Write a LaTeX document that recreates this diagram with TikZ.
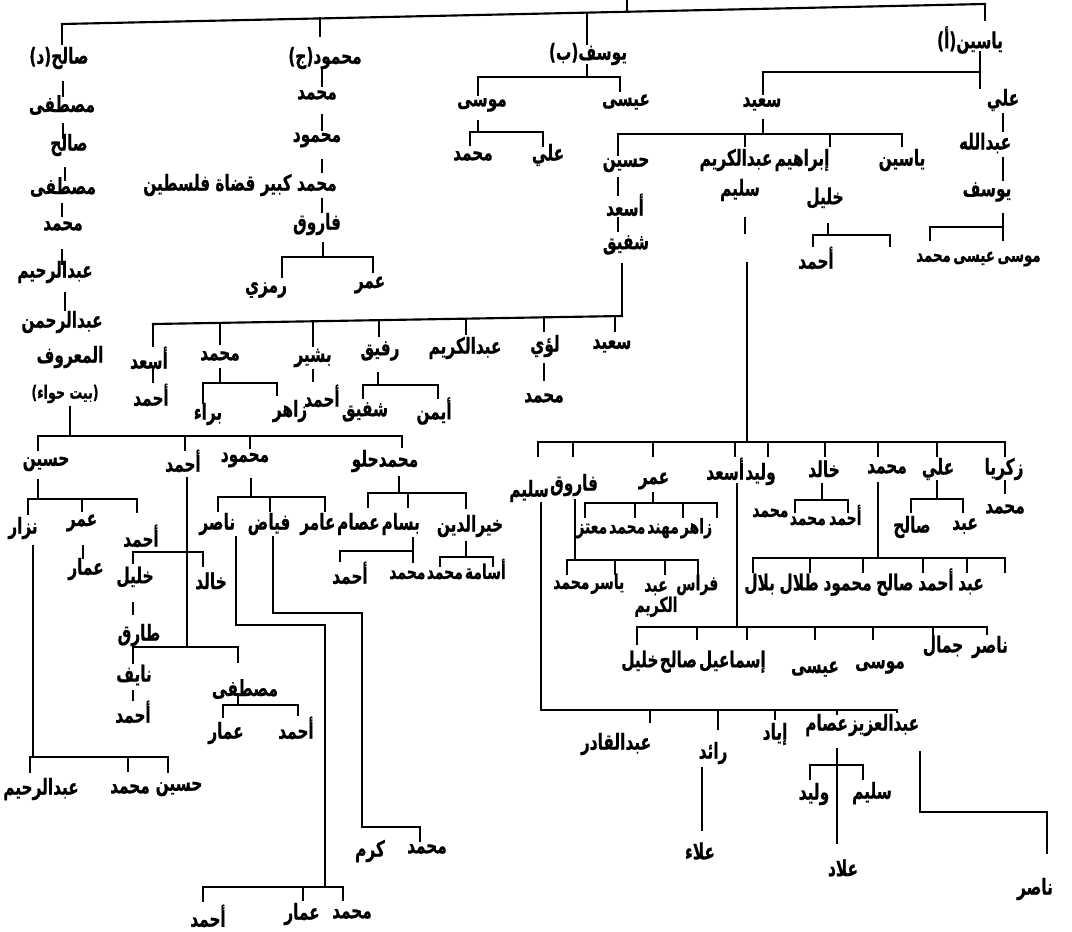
\documentclass[tikz,border=0pt]{standalone}
\usepackage{graphicx}
\usepackage{fontspec}
\newfontfamily\arabicfont[Script=Arabic,BoldFeatures={FakeBold=0.7}]{DejaVu Sans}
\TeXXeTstate=1
\newcommand\A[1]{\scalebox{1}[1.45]{\beginR #1\endR}}
\begin{document}
\begin{tikzpicture}[x=0.75pt,y=-0.75pt,
  nm/.style={font=\arabicfont\bfseries\fontsize{11.5}{13}\selectfont, inner sep=0pt},
  tn/.style={font=\arabicfont\bfseries\fontsize{10.5}{12}\selectfont, inner sep=0pt},
  tt/.style={font=\arabicfont\bfseries\fontsize{10}{12}\selectfont, inner sep=0pt},
  sm/.style={font=\arabicfont\bfseries\fontsize{9.5}{11}\selectfont, inner sep=0pt},
  nx/.style={anchor=base west},
  ln/.style={line width=1.6pt, line cap=rect}]
\useasboundingbox (0,0) rectangle (1072,932);
% ---------- top level
\draw[ln] (62,24) -- (985,4);
\draw[ln] (627,0) -- (627,12);
\node[nm] (a0) at (970,40) {\A{ياسين(أ)}};
\node[nm] (b0) at (588,54) {\A{يوسف(ب)}};
\node[nm] (c0) at (325,58) {\A{محمود(ج)}};
\node[nm] (d0) at (59,58) {\A{صالح(د)}};
\draw[ln] (62,24) -- (62,44);
\draw[ln] (320,18) -- (320,36);
\draw[ln] (587,13) -- (587,44);
\draw[ln] (985,4) -- (985,20);
% ---------- (d) chain
\node[nm] (d1) at (62,105) {\A{مصطفى}};
\node[nm] (d2) at (69,145) {\A{صالح}};
\node[nm] (d3) at (63,187) {\A{مصطفى}};
\node[nm] (d4) at (63,226) {\A{محمد}};
\node[nm] (d5) at (55,272) {\A{عبدالرحيم}};
\node[nm] (d6) at (62,322) {\A{عبدالرحمن}};
\node[nm] (d7) at (70,357) {\A{المعروف}};
\node[sm] (d8) at (65,394) {\A{(بيت حواء)}};
\draw[ln] (63,82) -- (63,96);
\draw[ln] (63,124) -- (63,138);
\draw[ln] (65,168) -- (65,180);
\draw[ln] (62,204) -- (62,216);
\draw[ln] (62,250) -- (62,264);
\draw[ln] (65,293) -- (65,310);
\draw[ln] (70,407) -- (70,436);
% ---------- (c) chain
\node[nm] (c1) at (317,95) {\A{محمد}};
\node[nm] (c2) at (317,140) {\A{محمود}};
\node[nm,anchor=east] (c3) at (337,185) {\A{محمد كبير قضاة فلسطين}};
\node[nm] (c4) at (317,224) {\A{فاروق}};
\node[nm] (c5) at (266,290) {\A{رمزي}};
\node[nm] (c6) at (370,285) {\A{عمر}};
\draw[ln] (322,70) -- (322,86);
\draw[ln] (322,115) -- (322,130);
\draw[ln] (322,160) -- (322,172);
\draw[ln] (322,199) -- (322,212);
\draw[ln] (323,243) -- (323,257);
\draw[ln] (282,277) -- (282,257) -- (373,257) -- (373,272);
% ---------- (b)
\node[nm] (b1) at (626,102) {\A{عيسى}};
\node[nm] (b2) at (482,105) {\A{موسى}};
\node[nm] (b3) at (473,156) {\A{محمد}};
\node[nm] (b4) at (548,155) {\A{علي}};
\draw[ln] (587,65) -- (587,77);
\draw[ln] (478,95) -- (478,77) -- (620,77) -- (620,91);
\draw[ln] (478,121) -- (478,132);
\draw[ln] (470,145) -- (470,132) -- (543,132) -- (543,146);
% ---------- (a)
\node[nm] (a1) at (762,104) {\A{سعيد}};
\node[nm] (a2) at (1003,100) {\A{علي}};
\node[nm] (a3) at (985,143) {\A{عبدالله}};
\node[nm] (a4) at (987,192) {\A{يوسف}};
\draw[ln] (980,52) -- (980,72);
\draw[ln] (763,94) -- (763,72) -- (980,72) -- (980,88);
\draw[ln] (1003,114) -- (1003,131);
\draw[ln] (1003,158) -- (1003,180);
\draw[ln] (1003,214) -- (1003,240);
\draw[ln] (930,240) -- (930,227) -- (1003,227);
% Sa'id's children
\draw[ln] (763,120) -- (763,134);
\draw[ln] (618,155) -- (618,134) -- (902,134) -- (902,146);
\draw[ln] (830,134) -- (830,146);
\draw[ln] (745,134) -- (745,146);
\node[nm] (a5) at (626,165) {\A{حسين}};
\node[nm] (a6) at (736,160) {\A{عبدالكريم}};
\node[nm] (a7) at (802,160) {\A{إبراهيم}};
\node[nm] (a8) at (902,160) {\A{ياسين}};
\node[nm] (a9) at (740,190) {\A{سليم}};
\node[nm] (a10) at (825,198) {\A{خليل}};
\draw[ln] (745,218) -- (745,233);
\draw[ln] (747,263) -- (747,442);
\draw[ln] (828,224) -- (828,235);
\draw[ln] (813,246) -- (813,235) -- (890,235) -- (890,246);
\node[nm] (a10a) at (816,258) {\A{أحمد}};
\node[tt,anchor=west] (a10b) at (916,258) {\A{محمد}};
\node[tt,nx] (a4b) at ([xshift=1.5pt]a10b.base east) {\A{عيسى}};
\node[tt,nx] (a4a) at ([xshift=1.5pt]a4b.base east) {\A{موسى}};
% Hussein chain
\node[nm] (a11) at (625,205) {\A{أسعد}};
\node[nm] (a12) at (626,245) {\A{شفيق}};
\draw[ln] (618,178) -- (618,195);
\draw[ln] (618,218) -- (618,231);
\draw[ln] (622,264) -- (622,316);
% Shafiq's children
\draw[ln] (153,324) -- (622,316);
\node[nm] (s1) at (149,358) {\A{أسعد}};
\node[nm] (s2) at (220,356) {\A{محمد}};
\node[nm] (s3) at (313,358) {\A{بشير}};
\node[nm] (s4) at (380,351) {\A{رفيق}};
\node[nm] (s5) at (465,348) {\A{عبدالكريم}};
\node[nm] (s6) at (545,346) {\A{لؤي}};
\node[nm] (s7) at (612,346) {\A{سعيد}};
\draw[ln] (153,324) -- (153,346);
\draw[ln] (220,323) -- (220,344);
\draw[ln] (313,321) -- (313,346);
\draw[ln] (379,320) -- (379,336);
\draw[ln] (466,319) -- (466,334);
\draw[ln] (544,317) -- (544,331);
\draw[ln] (615,316) -- (615,331);
\node[nm] (s1a) at (151,395) {\A{أحمد}};
\draw[ln] (153,370) -- (153,382);
\draw[ln] (220,369) -- (220,383);
\draw[ln] (203,403) -- (203,383) -- (277,383) -- (277,395);
\node[nm] (s2a) at (290,411) {\A{زاهر}};
\node[nm] (s2b) at (208,414) {\A{براء}};
\node[nm] (s3a) at (322,396) {\A{أحمد}};
\draw[ln] (313,370) -- (313,381);
\draw[ln] (378,373) -- (378,385);
\draw[ln] (363,398) -- (363,385) -- (438,385) -- (438,398);
\node[nm] (s4a) at (365,412) {\A{شفيق}};
\node[nm] (s4b) at (434,411) {\A{أيمن}};
\node[nm] (s6a) at (544,398) {\A{محمد}};
\draw[ln] (544,364) -- (544,380);
% ---------- al-Ma'ruf's children
\draw[ln] (38,436) -- (402,436);
\draw[ln] (38,436) -- (38,450);
\draw[ln] (185,436) -- (185,450);
\draw[ln] (250,436) -- (250,448);
\draw[ln] (402,436) -- (402,447);
\node[nm] (m1) at (46,464) {\A{حسين}};
\node[nm] (m2) at (183,461) {\A{أحمد}};
\node[nm] (m3) at (245,460) {\A{محمود}};
\node[nm] (m4) at (385,461) {\A{محمدحلو}};
% Hussein
\draw[ln] (38,480) -- (38,499);
\draw[ln] (28,514) -- (28,499) -- (137,499) -- (137,512);
\draw[ln] (82,499) -- (82,511);
\node[nm] (m1a) at (23,528) {\A{نزار}};
\node[nm] (m1b) at (82,523) {\A{عمر}};
\node[nm] (m1c) at (141,536) {\A{أحمد}};
\node[nm] (m1b1) at (86,569) {\A{عمار}};
\draw[ln] (83,546) -- (83,558);
\draw[ln] (33,546) -- (33,757);
\draw[ln] (30,772) -- (30,757) -- (168,757) -- (168,772);
\draw[ln] (128,757) -- (128,771);
\node[nm] (n1) at (41,789) {\A{عبدالرحيم}};
\node[nm] (n2) at (130,789) {\A{محمد}};
\node[nm] (n3) at (179,789) {\A{حسين}};
\draw[ln] (133,563) -- (133,552) -- (203,552) -- (203,566);
\node[nm] (k1) at (135,577) {\A{خليل}};
\node[nm] (k2) at (211,581) {\A{خالد}};
\draw[ln] (133,603) -- (133,614);
\node[nm] (k3) at (139,635) {\A{طارق}};
% Ahmad (son of al-Ma'ruf)
\draw[ln] (187,478) -- (187,647);
\draw[ln] (133,663) -- (133,647) -- (238,647) -- (238,662);
\node[nm] (t1) at (134,675) {\A{نايف}};
\draw[ln] (133,691) -- (133,700);
\node[nm] (t2) at (133,712) {\A{أحمد}};
\node[nm] (t3) at (245,689) {\A{مصطفى}};
\draw[ln] (238,697) -- (238,705);
\draw[ln] (223,717) -- (223,705) -- (298,705) -- (298,715);
\node[nm] (t4) at (226,733) {\A{عمار}};
\node[nm] (t5) at (296,728) {\A{أحمد}};
% Mahmud
\draw[ln] (251,479) -- (251,497);
\draw[ln] (218,511) -- (218,497) -- (325,497) -- (325,511);
\draw[ln] (270,497) -- (270,511);
\node[nm,anchor=west] (h1) at (199,524) {\A{ناصر}};
\node[nm,nx] (h2) at ([xshift=9pt]h1.base east) {\A{فياض}};
\node[nm,nx] (h3) at ([xshift=7pt]h2.base east) {\A{عامر}};
\draw[ln] (236,537) -- (236,625) -- (325,625) -- (325,887);
\draw[ln] (203,901) -- (203,887) -- (343,887) -- (343,900);
\draw[ln] (303,887) -- (303,900);
\node[nm] (h1a) at (208,916) {\A{أحمد}};
\node[nm] (h1b) at (302,914) {\A{عمار}};
\node[nm] (h1c) at (352,914) {\A{محمد}};
\draw[ln] (273,537) -- (273,613) -- (362,613) -- (362,827) -- (420,827) -- (420,841);
\node[nm] (h2a) at (370,851) {\A{كرم}};
\node[nm] (h2b) at (427,849) {\A{محمد}};
% Muhammad Hilu
\draw[ln] (399,477) -- (399,493);
\draw[ln] (368,507) -- (368,493) -- (466,493) -- (466,508);
\draw[ln] (408,493) -- (408,507);
\node[nm,nx] (w1) at ([xshift=0.8pt]h3.base east) {\A{عصام}};
\node[nm,nx] (w2) at ([xshift=1pt]w1.base east) {\A{بسام}};
\node[nm] (w3) at (470,526) {\A{خيرالدين}};
\draw[ln] (413,538) -- (413,562);
\draw[ln] (340,561) -- (340,551) -- (413,551);
\node[nm] (w2a) at (350,573) {\A{أحمد}};
\node[tn,anchor=west] (w2b) at (389,575) {\A{محمد}};
\node[tn,nx] (w3a) at ([xshift=0.5pt]w2b.base east) {\A{محمد}};
\node[tn,nx] (w3b) at ([xshift=1pt]w3a.base east) {\A{أسامة}};
\draw[ln] (466,542) -- (466,557);
\draw[ln] (440,566) -- (440,557) -- (493,557) -- (493,566);
% ---------- Salim (son of Abd al-Karim) children
\draw[ln] (538,442) -- (1005,442);
\foreach \x in {538,573,653,735,768,825,878,937,1005} \draw[ln] (\x,442) -- (\x,456);
\node[nm,anchor=west] (r1) at (509,491) {\A{سليم}};
\node[nm,nx,yshift=4.5pt] (r2) at ([xshift=0.5pt]r1.base east) {\A{فاروق}};
\node[nm] (r3) at (654,481) {\A{عمر}};
\node[nm,anchor=west] (r4) at (706,469) {\A{أسعد}};
\node[nm,nx] (r5) at ([xshift=0.5pt]r4.base east) {\A{وليد}};
\node[nm] (r6) at (824,469) {\A{خالد}};
\node[nm] (r7) at (887,469) {\A{محمد}};
\node[nm] (r8) at (938,469) {\A{علي}};
\node[nm] (r9) at (1004,469) {\A{زكريا}};
% Umar
\draw[ln] (653,493) -- (653,503);
\draw[ln] (585,517) -- (585,503) -- (717,503) -- (717,517);
\draw[ln] (635,503) -- (635,517);
\draw[ln] (683,503) -- (683,517);
\node[tn,anchor=west] (u1) at (576,531) {\A{معتز}};
\node[tn,nx] (u2) at ([xshift=1pt]u1.base east) {\A{محمد}};
\node[tn,nx] (u3) at ([xshift=1pt]u2.base east) {\A{مهند}};
\node[tn,nx] (u4) at ([xshift=1pt]u3.base east) {\A{زاهر}};
% Faruq
\draw[ln] (575,500) -- (575,560);
\draw[ln] (567,574) -- (567,560) -- (698,560) -- (698,574);
\draw[ln] (615,560) -- (615,574);
\draw[ln] (665,560) -- (665,574);
\node[tn,anchor=west] (f1) at (553,585) {\A{محمد}};
\node[tn,nx] (f2) at ([xshift=1pt]f1.base east) {\A{ياسر}};
\node[tn,align=center] (f3) at (656,599) {\A{عبد}\\\A{الكريم}};
\node[tn,anchor=west] (f4) at (676,585) {\A{فراس}};
% Salim
\draw[ln] (541,503) -- (541,710) -- (897,710) -- (897,712);
\draw[ln] (650,710) -- (650,722);
\draw[ln] (718,710) -- (718,729);
\draw[ln] (775,710) -- (775,719);
\draw[ln] (837,710) -- (837,714);
\node[nm] (l1) at (616,744) {\A{عبدالقادر}};
\node[nm] (l2) at (713,753) {\A{رائد}};
\node[nm] (l3) at (775,734) {\A{إياد}};
\node[nm,anchor=west] (l4) at (805,725) {\A{عصام}};
\node[nm,nx] (l5) at ([xshift=0.5pt]l4.base east) {\A{عبدالعزيز}};
\draw[ln] (702,768) -- (702,830);
\node[nm] (l2a) at (700,851) {\A{علاء}};
\draw[ln] (837,749) -- (837,843);
\draw[ln] (810,779) -- (810,765) -- (863,765) -- (863,779);
\node[nm] (l4a) at (814,794) {\A{وليد}};
\node[nm] (l4b) at (872,793) {\A{سليم}};
\node[nm] (l4c) at (843,868) {\A{علاد}};
\draw[ln] (920,752) -- (920,812) -- (1047,812) -- (1047,853);
\node[nm] (l5a) at (1035,889) {\A{ناصر}};
% Asad
\draw[ln] (737,484) -- (737,627);
\draw[ln] (637,644) -- (637,627) -- (987,627) -- (987,634);
\foreach \x in {697,747,815,873,933} \draw[ln] (\x,627) -- (\x,639);
\node[nm,anchor=west] (q1) at (621,661) {\A{خليل}};
\node[nm,nx] (q2) at ([xshift=0.5pt]q1.base east) {\A{صالح}};
\node[nm,nx] (q3) at ([xshift=1pt]q2.base east) {\A{إسماعيل}};
\node[nm] (q4) at (815,669) {\A{عيسى}};
\node[nm] (q5) at (880,667) {\A{موسى}};
\node[nm] (q6) at (943,646) {\A{جمال}};
\node[nm] (q7) at (990,647) {\A{ناصر}};
% Khalid
\draw[ln] (822,484) -- (822,500);
\draw[ln] (795,512) -- (795,500) -- (848,500) -- (848,512);
\node[tn,anchor=west] (x3) at (752,513) {\A{محمد}};
\node[tn,nx,yshift=-6pt] (x1) at ([xshift=0.5pt]x3.base east) {\A{محمد}};
\node[tn,nx] (x2) at ([xshift=2pt]x1.base east) {\A{أحمد}};
% Muhammad
\draw[ln] (878,483) -- (878,558);
\draw[ln] (753,572) -- (753,558) -- (1005,558) -- (1005,572);
\foreach \x in {810,863,923,967} \draw[ln] (\x,558) -- (\x,572);
\node[nm,anchor=west] (y1) at (744,584) {\A{بلال}};
\node[nm,nx] (y2) at ([xshift=3pt]y1.base east) {\A{طلال}};
\node[nm,nx] (y3) at ([xshift=3pt]y2.base east) {\A{محمود}};
\node[nm,nx] (y4) at ([xshift=3pt]y3.base east) {\A{صالح}};
\node[nm,nx] (y5) at ([xshift=3pt]y4.base east) {\A{أحمد}};
\node[nm,nx] (y6) at ([xshift=3pt]y5.base east) {\A{عبد}};
% Ali
\draw[ln] (937,481) -- (937,499);
\draw[ln] (911,512) -- (911,499) -- (963,499) -- (963,512);
\node[nm] (z1) at (912,527) {\A{صالح}};
\node[nm] (z2) at (965,526) {\A{عبد}};
% Zakariya
\draw[ln] (1005,481) -- (1005,493);
\node[nm] (z3) at (1005,509) {\A{محمد}};
\end{tikzpicture}
\end{document}
